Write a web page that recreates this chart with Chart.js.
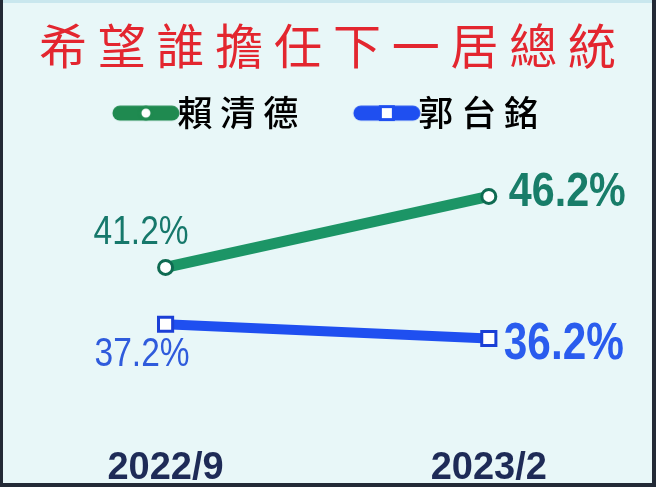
<!DOCTYPE html>
<html>
<head>
<meta charset="utf-8">
<script src="https://cdn.jsdelivr.net/npm/chart.js@4.4.0/dist/chart.umd.min.js"></script>
<style>
  html, body { margin: 0; padding: 0; background: #e8f7f8; }
  canvas { display: block; }
</style>
</head>
<body>
<canvas id="poll-chart" width="656" height="487"></canvas>
<script>
const labels = ['2022/9', '2023/2'];
const seriesNames = ['賴清德', '郭台銘'];
const laiValues = [41.2, 46.2];
const guoValues = [37.2, 36.2];
const titleText = '希望誰擔任下一居總統';

const spaced = s => s.split('').join(' ');

// legend marker: thick rounded bar with the point symbol in the middle
// (left 16px of the image is left empty so the bar sits closer to its text)
function legendMarker(color, shape) {
  const c = document.createElement('canvas');
  c.width = 84;
  c.height = 18;
  const g = c.getContext('2d');
  g.translate(16, 0);
  g.strokeStyle = color;
  g.lineWidth = 15;
  g.lineCap = 'round';
  g.beginPath();
  g.moveTo(8, 9);
  g.lineTo(60, 9);
  g.stroke();
  g.fillStyle = '#ffffff';
  g.lineWidth = 3;
  if (shape == 'circle') {
    g.beginPath();
    g.arc(34, 9, 6, 0, Math.PI * 2);
    g.fill();
    g.stroke();
  } else {
    g.fillRect(27.5, 2.5, 13, 13);
    g.strokeRect(27.5, 2.5, 13, 13);
  }
  return c;
}

const markers = [legendMarker('#1f8a50', 'circle'), legendMarker('#1f4ff0', 'rect')];

const screenFrame = {
  id: 'screenFrame',
  beforeDraw(chart) {
    const { ctx, width, height } = chart;
    ctx.save();
    ctx.fillStyle = '#e8f7f8';
    ctx.fillRect(0, 0, width, height);
    ctx.restore();
  },
  afterDraw(chart) {
    const { ctx, width, height } = chart;
    ctx.save();
    ctx.fillStyle = '#c9e7ee';
    ctx.fillRect(0, 0, width, 3);
    ctx.fillStyle = '#232a36';
    ctx.fillRect(0, 0, 3, height);
    ctx.fillRect(width - 4, 0, 4, height);
    ctx.fillRect(0, height - 4, width, 4);
    ctx.restore();
  }
};

const valueLabels = {
  id: 'valueLabels',
  afterDatasetsDraw(chart) {
    const ctx = chart.ctx;
    const styles = [
      [
        { dx: 23, dy: -34, align: 'right', font: '40px "Liberation Sans", Arial', color: '#16786b', w: 95 },
        { dx: 20, dy: -4, align: 'left', font: 'bold 49px "Liberation Sans", Arial', color: '#187d69', w: 117 }
      ],
      [
        { dx: 24, dy: 31, align: 'right', font: '40px "Liberation Sans", Arial', color: '#2f5bdc', w: 95 },
        { dx: 15, dy: 6, align: 'left', font: 'bold 51px "Liberation Sans", Arial', color: '#2a5cee', w: 120 }
      ]
    ];
    ctx.save();
    ctx.textBaseline = 'middle';
    chart.data.datasets.forEach((ds, i) => {
      const meta = chart.getDatasetMeta(i);
      meta.data.forEach((pt, j) => {
        const st = styles[i][j];
        ctx.font = st.font;
        ctx.fillStyle = st.color;
        ctx.textAlign = st.align;
        ctx.fillText(ds.data[j].y.toFixed(1) + '%', pt.x + st.dx, pt.y + st.dy, st.w);
      });
    });
    ctx.restore();
  }
};

const ctx = document.getElementById('poll-chart').getContext('2d');
new Chart(ctx, {
  type: 'line',
  data: {
    datasets: [{
      label: seriesNames[0],
      data: laiValues.map((v, i) => ({ x: i, y: v })),
      borderColor: '#1c9566',
      borderWidth: 11,
      pointStyle: 'circle',
      pointRadius: 7,
      pointBorderWidth: 3,
      pointBorderColor: '#0f6b52',
      pointBackgroundColor: '#ffffff',
      clip: false
    }, {
      label: seriesNames[1],
      data: guoValues.map((v, i) => ({ x: i, y: v })),
      borderColor: '#1f4ff0',
      borderWidth: 10,
      pointStyle: 'rect',
      pointRadius: 10,
      pointBorderWidth: 3,
      pointBorderColor: '#1b3fd6',
      pointBackgroundColor: '#ffffff',
      clip: false
    }]
  },
  options: {
    responsive: false,
    animation: false,
    layout: { padding: { top: 5, left: 4, right: 5, bottom: -7 } },
    plugins: {
      tooltip: { enabled: false },
      title: {
        display: true,
        text: spaced(titleText),
        color: '#e3262f',
        font: { size: 48, family: '"Noto Sans CJK TC"', weight: 'normal' },
        padding: { top: 12, bottom: 21 }
      },
      legend: {
        display: true,
        labels: {
          usePointStyle: true,
          pointStyleWidth: 44,
          padding: 0,
          color: '#1b2452',
          font: { size: 35, family: '"Noto Sans CJK TC"', weight: '500' },
          generateLabels: chart => chart.data.datasets.map((ds, i) => ({
            text: spaced(ds.label) + (i == 0 ? '\u3000   ' : ''),
            fillStyle: ds.borderColor,
            strokeStyle: ds.borderColor,
            lineWidth: 0,
            pointStyle: markers[i],
            datasetIndex: i
          }))
        }
      }
    },
    scales: {
      x: {
        type: 'linear',
        min: -0.472,
        max: 1.477,
        afterBuildTicks: scale => { scale.ticks = labels.map((_, i) => ({ value: i })); },
        grid: { display: false, drawTicks: false },
        border: { display: false },
        ticks: {
          autoSkip: false,
          maxRotation: 0,
          padding: 6,
          color: '#1e2b57',
          font: { size: 38, family: '"Liberation Sans", Arial', weight: 'bold', lineHeight: 1 },
          callback: v => labels[v]
        }
      },
      y: {
        display: false,
        min: 28.77,
        max: 50.13
      }
    }
  },
  plugins: [screenFrame, valueLabels]
});
</script>
</body>
</html>
